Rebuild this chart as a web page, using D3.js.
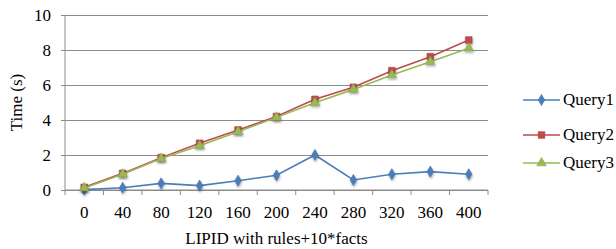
<!DOCTYPE html>
<html>
<head>
<meta charset="utf-8">
<script src="https://cdn.jsdelivr.net/npm/d3@7"></script>
<style>
  body { margin: 0; background: #fff; }
  text { font-family: "Liberation Serif", "Times New Roman", serif; fill: #000; }
</style>
</head>
<body>
<div id="chart"></div>
<script>
const categories = [0, 40, 80, 120, 160, 200, 240, 280, 320, 360, 400];
const query1 = [0.02, 0.13, 0.38, 0.25, 0.53, 0.84, 2.0, 0.57, 0.9, 1.05, 0.9];
const query2 = [0.15, 0.95, 1.85, 2.67, 3.43, 4.2, 5.18, 5.87, 6.82, 7.62, 8.57];
const query3 = [0.12, 0.9, 1.8, 2.53, 3.33, 4.15, 4.99, 5.75, 6.57, 7.33, 8.1];
const yTicks = [0, 2, 4, 6, 8, 10];

const series = [
  { name: "Query1", values: query1, color: "#4a7ebb", marker: "diamond" },
  { name: "Query2", values: query2, color: "#be4b48", marker: "square" },
  { name: "Query3", values: query3, color: "#98b954", marker: "triangle" }
];

const svgWidth = 616, svgHeight = 249;
const margin = { top: 15, right: 128, bottom: 59, left: 65 };
const width = svgWidth - margin.left - margin.right;
const height = svgHeight - margin.top - margin.bottom;
const fontSize = "17px";

const svg = d3.select("#chart").append("svg")
  .attr("width", svgWidth)
  .attr("height", svgHeight);

// sombra suave de los marcadores
const defs = svg.append("defs");
const f = defs.append("filter").attr("id", "shadow").attr("x", "-50%").attr("y", "-50%").attr("width", "200%").attr("height", "200%");
f.append("feDropShadow").attr("dx", 0.5).attr("dy", 1.5).attr("stdDeviation", 1).attr("flood-color", "#000").attr("flood-opacity", 0.35);

const g = svg.append("g").attr("transform", `translate(${margin.left},${margin.top})`);

const x = d3.scaleBand().domain(categories).range([0, width]);
const y = d3.scaleLinear().domain([0, 10]).range([height, 0]);

// gridlines + y ticks
g.append("g")
  .attr("class", "y-axis")
  .attr("transform", "translate(-4,0)")
  .call(d3.axisLeft(y).tickValues(yTicks).tickSize(-(width + 4)).tickPadding(10))
  .call(s => s.select(".domain").remove())
  .call(s => s.selectAll(".tick line").attr("stroke", "#8c8c8c").attr("stroke-width", 1))
  .call(s => s.selectAll(".tick text").style("font-size", fontSize).attr("fill", "#000"));

// vertical axis line
g.append("line").attr("x1", 0).attr("x2", 0).attr("y1", 0).attr("y2", height).attr("stroke", "#8c8c8c");

// x axis with tick marks at band edges
const xAxis = g.append("g").attr("transform", `translate(0,${height})`);
xAxis.append("line").attr("x1", 0).attr("x2", width).attr("stroke", "#8c8c8c");
xAxis.selectAll(".edge")
  .data(categories.concat(["end"]))
  .enter().append("line")
  .attr("x1", (d, i) => i < categories.length ? x(d) : width)
  .attr("x2", (d, i) => i < categories.length ? x(d) : width)
  .attr("y1", 0).attr("y2", 5)
  .attr("stroke", "#8c8c8c");
xAxis.selectAll(".lbl")
  .data(categories)
  .enter().append("text")
  .attr("x", d => x(d) + x.bandwidth() / 2)
  .attr("y", 28)
  .attr("text-anchor", "middle")
  .style("font-size", fontSize)
  .text(d => d);

// axis titles
svg.append("text")
  .attr("x", margin.left + width / 2)
  .attr("y", 244)
  .attr("text-anchor", "middle")
  .style("font-size", fontSize)
  .text("LIPID with rules+10*facts");

svg.append("text")
  .attr("transform", "rotate(-90)")
  .attr("x", -(margin.top + height / 2))
  .attr("y", 22)
  .attr("text-anchor", "middle")
  .style("font-size", fontSize)
  .text("Time (s)");

const symbols = { diamond: d3.symbolDiamond, square: d3.symbolSquare, triangle: d3.symbolTriangle };
const sizes = { diamond: 36, square: 44, triangle: 40 };

const line = d3.line()
  .x((d, i) => x(categories[i]) + x.bandwidth() / 2)
  .y(d => y(d));

series.forEach(s => {
  g.append("path")
    .datum(s.values)
    .attr("fill", "none")
    .attr("stroke", s.color)
    .attr("stroke-width", 1.6)
    .attr("d", line);
  g.selectAll(".m-" + s.name)
    .data(s.values)
    .enter().append("path")
    .attr("d", d3.symbol().type(symbols[s.marker]).size(sizes[s.marker]))
    .attr("transform", (d, i) => `translate(${x(categories[i]) + x.bandwidth() / 2},${y(d)})`)
    .attr("fill", s.color)
    .attr("stroke", d3.color(s.color).darker(0.3))
    .attr("stroke-width", 0.6)
    .attr("filter", "url(#shadow)");
});

// legend
const legend = svg.append("g").attr("transform", "translate(523,0)");
const legendY = [100, 135, 163];
series.forEach((s, i) => {
  const lg = legend.append("g").attr("transform", `translate(0,${legendY[i]})`);
  lg.append("line").attr("x1", 0).attr("x2", 37).attr("stroke", s.color).attr("stroke-width", 1.6);
  lg.append("path")
    .attr("d", d3.symbol().type(symbols[s.marker]).size(sizes[s.marker]))
    .attr("transform", "translate(18.5,0)")
    .attr("fill", s.color)
    .attr("stroke", d3.color(s.color).darker(0.3))
    .attr("stroke-width", 0.6);
  lg.append("text")
    .attr("x", 40)
    .attr("y", 5)
    .style("font-size", fontSize)
    .text(s.name);
});
</script>
</body>
</html>
